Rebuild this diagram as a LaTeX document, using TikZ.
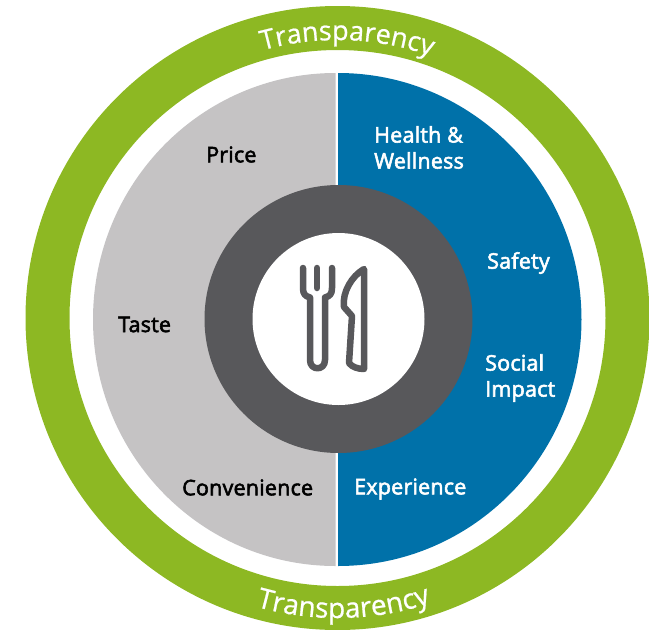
\documentclass[tikz,border=0pt]{standalone}
\usepackage{fontspec}
\setmainfont{Open Sans}
\newfontfamily\semi[FakeBold=2.6,LetterSpace=1]{Open Sans}
\newfontfamily\medi[FakeBold=0.7]{Open Sans}
\usetikzlibrary{decorations.text}
\definecolor{ringgreen}{HTML}{8DB823}
\definecolor{halfgray}{HTML}{C5C3C4}
\definecolor{halfblue}{HTML}{0071A9}
\definecolor{darkgray}{HTML}{58585B}
\tikzset{
  x=1pt,y=-1pt,
  lab/.style={font=\semi\fontsize{21.5}{26}\selectfont,align=left,anchor=west,inner sep=0pt},
  dark/.style={lab,text=black},
  light/.style={lab,text=white},
  icon/.style={draw=darkgray,line width=6.5pt,line cap=round,line join=round},
  curved/.style={decorate,decoration={text along path,text align=center,
    text={|\medi\fontsize{27}{27}\selectfont\color{white}|Transparency}}},
  curvedb/.style={decorate,decoration={text along path,text align=center,
    text={|\medi\fontsize{28}{28}\selectfont\color{white}|Transparency}}}
}
\begin{document}
\begin{tikzpicture}
\useasboundingbox (0,0) rectangle (649,630);
\fill[ringgreen,even odd rule] (337.5,318) circle[radius=312] (337.5,318) circle[radius=268];
\fill[halfgray] (335.5,73) arc[start angle=-90,end angle=-270,x radius=242.5,y radius=246.5] -- cycle;
\fill[halfblue] (338,73) arc[start angle=-90,end angle=90,x radius=243.5,y radius=246.5] -- cycle;
\fill[darkgray] (338.5,319) circle[radius=134];
\fill[white] (338.5,319) circle[radius=86];
\draw[icon] (303,268) -- (303,288) .. controls (303,294) and (305,296) .. (310,297.5)
  -- (310,360) .. controls (310,371) and (325,371) .. (325,360) -- (325,297.5)
  .. controls (330,296) and (332,294) .. (332,288) -- (332,268);
\draw[icon] (317,268) -- (317,288);
\draw[icon] (364,269) -- (364,369) .. controls (358,369) and (352,367) .. (349,363)
  -- (352,316) -- (344,307) .. controls (342,292) and (352,276) .. (364,269) -- cycle;
\node[dark] (price) at (206,154.5) {Price};
\node[dark] (taste) at (118,324.5) {Taste};
\node[dark] (conv) at (182,487.5) {Convenience};
\node[light] (health) at (374,147.5) {Health \&\\Wellness};
\node[light] (safety) at (487,263) {Safety};
\node[light] (social) at (485,378) {Social\\Impact};
\node[light] (exper) at (354,489) {Experience};
\path[curved,shift={(337.5,318)}] (-108:278) arc[start angle=-108,end angle=-68,radius=278];
\path[curvedb,shift={(337.5,318)}] (108.8:300) arc[start angle=108.8,end angle=68.8,radius=300];
\end{tikzpicture}
\end{document}
